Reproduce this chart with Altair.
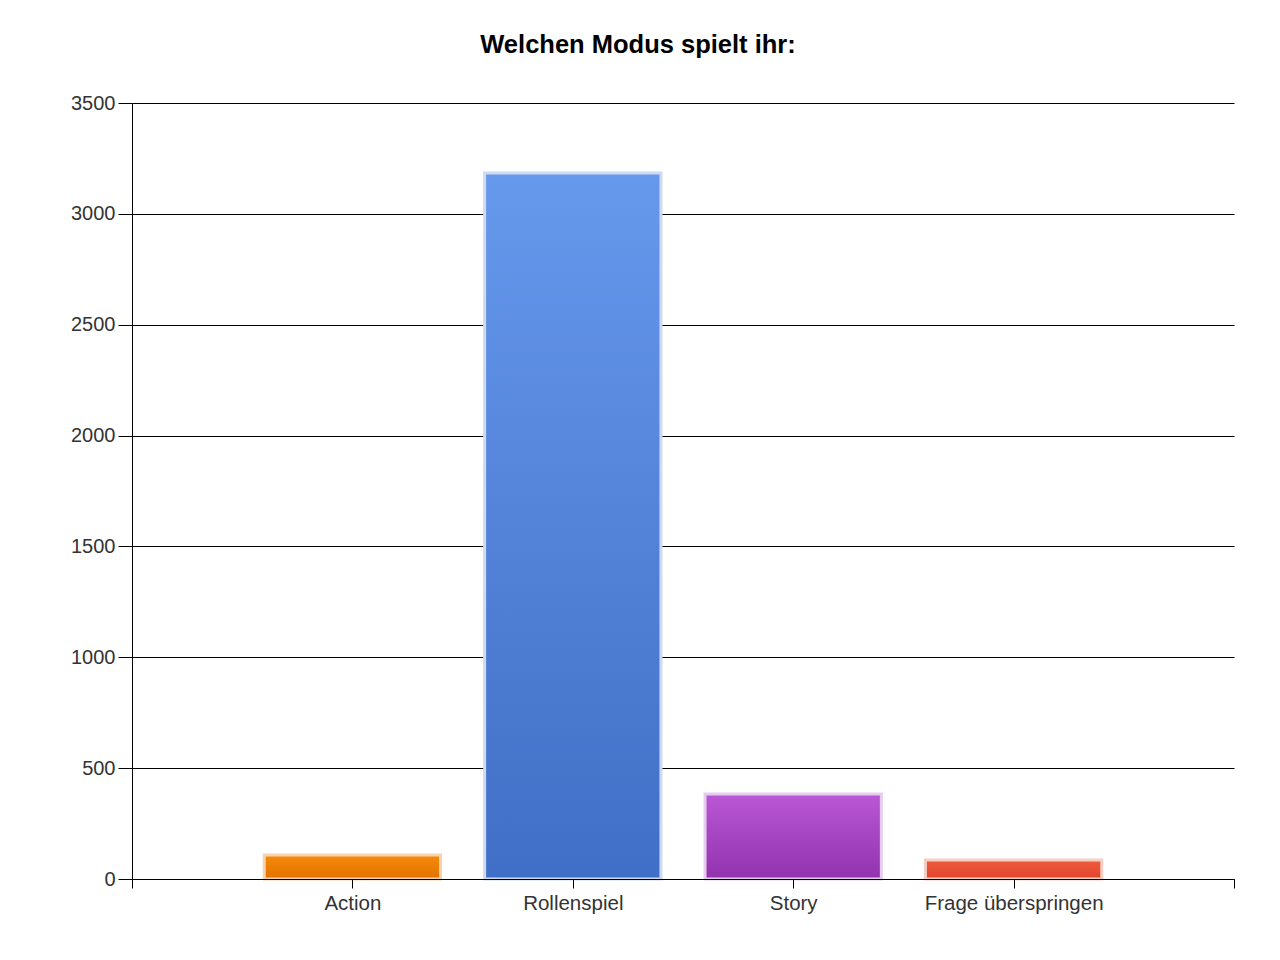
import json
import altair as alt
import pandas as pd

# ---- data ----
categories = ["Action", "Rollenspiel", "Story", "Frage überspringen"]
values = [108, 3184, 383, 86]
positions = [1, 2, 3, 4]          # slot index of each category on the x axis
y_ticks = [0, 500, 1000, 1500, 2000, 2500, 3000, 3500]

# ---- styles ----
top_colors = ["#F48B0A", "#6698EC", "#BA58D6", "#EE5B3F"]
bottom_colors = ["#E27200", "#3F6FC6", "#9232AE", "#E2442C"]
stroke_colors = ["#F6D3AE", "#CCDAF2", "#E6CDEF", "#F5CFC4"]

df = pd.DataFrame({"category": categories, "value": values, "pos": positions})

label_list = [""] + categories + [""]
label_expr = json.dumps(label_list, ensure_ascii=False) + "[datum.value]"

FONT = "Liberation Sans"

x_enc = alt.X(
    "x0:Q",
    scale=alt.Scale(domain=[0, 5], nice=False, zero=False),
    axis=alt.Axis(
        title=None,
        values=[0, 1, 2, 3, 4, 5],
        labelExpr=label_expr,
        grid=False,
        domainColor="black",
        domainWidth=1,
        tickColor="black",
        tickSize=9,
        labelPadding=5,
        labelFont=FONT,
        labelFontSize=20.5,
        labelColor="#333333",
        labelAngle=0,
        zindex=1,
    ),
)
y_enc = alt.Y(
    "value:Q",
    scale=alt.Scale(domain=[0, 3500], nice=False),
    axis=alt.Axis(
        title=None,
        values=y_ticks,
        format="d",
        grid=True,
        gridColor="black",
        gridWidth=1,
        gridOpacity=1,
        domainColor="black",
        tickColor="black",
        tickSize=14,
        labelPadding=3,
        labelFont=FONT,
        labelFontSize=20,
        labelColor="#333333",
        zindex=0,
    ),
)

layers = []
for i, cat in enumerate(categories):
    grad = alt.Gradient(
        gradient="linear",
        stops=[
            alt.GradientStop(color=top_colors[i], offset=0),
            alt.GradientStop(color=bottom_colors[i], offset=1),
        ],
        x1=0, x2=0, y1=0, y2=1,
    )
    layer = (
        alt.Chart(df)
        .transform_filter(alt.datum.category == cat)
        .transform_calculate(x0="datum.pos - 0.4", x1="datum.pos + 0.4")
        .mark_bar(color=grad, stroke=stroke_colors[i], strokeWidth=3)
        .encode(x=x_enc, x2="x1:Q", y=y_enc, y2=alt.datum(0))
    )
    layers.append(layer)

chart = (
    alt.layer(*layers)
    .properties(
        width=1102,
        height=776,
        title=alt.TitleParams(
            text="Welchen Modus spielt ihr:",
            font=FONT,
            fontSize=25.5,
            fontWeight="bold",
            color="black",
            anchor="middle",
            dx=-45,
            offset=35,
        ),
        autosize=alt.AutoSizeParams(type="none"),
        padding={"left": 124, "top": 95, "right": 30, "bottom": 60},
        view=alt.ViewBackground(strokeWidth=0, strokeOpacity=0),
    )
    .configure_view(strokeWidth=0, strokeOpacity=0)
    .configure(background="white")
)

chart.save("out.html", embed_options={"renderer": "svg", "actions": False})
